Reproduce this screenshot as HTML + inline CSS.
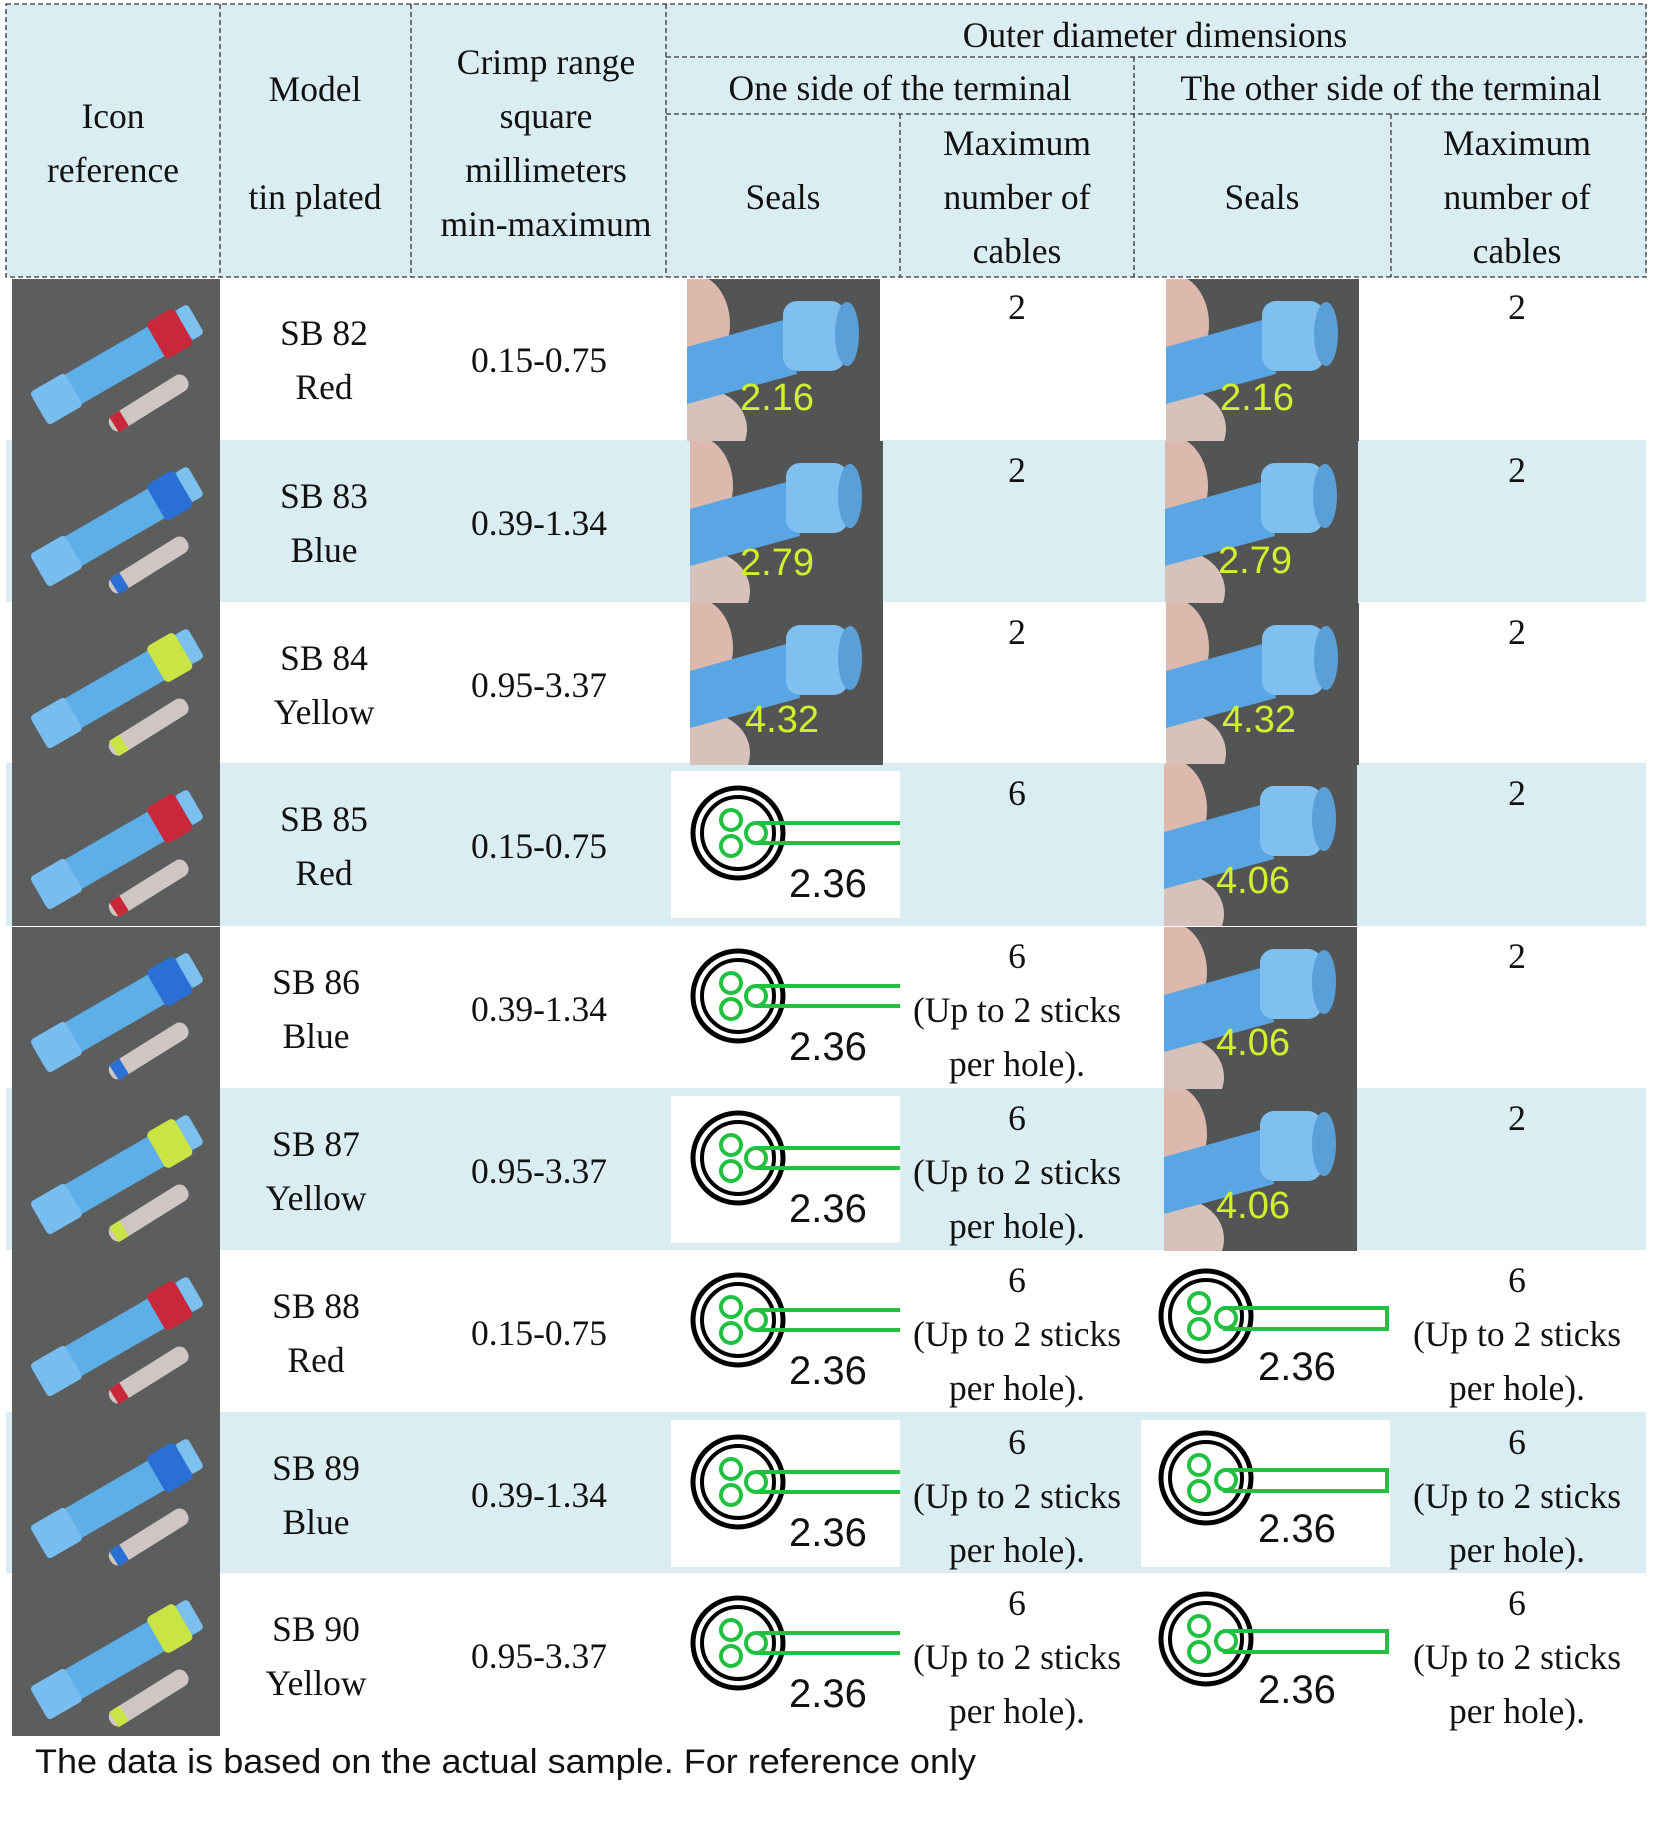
<!DOCTYPE html>
<html><head><meta charset="utf-8"><style>
html,body{margin:0;padding:0;background:#fff;}
svg{display:block;}
.s{font-family:"Liberation Serif",serif;font-size:35.5px;fill:#111;text-anchor:middle;}
.n{font-family:"Liberation Sans Narrow","Liberation Sans",sans-serif;font-size:40px;fill:#111;}
.y{font-family:"Liberation Sans Narrow","Liberation Sans",sans-serif;font-size:38px;fill:#d2ef2e;}
</style></head><body>
<svg width="1653" height="1833" viewBox="0 0 1653 1833" xmlns="http://www.w3.org/2000/svg">
<defs>
<symbol id="icon" viewBox="0 0 208 162" width="208" height="162">
<rect width="208" height="162" fill="#5c5e5e"/>
<g transform="rotate(-30 105 85)">
<rect x="15" y="68" width="180" height="34" rx="6" fill="#5eaee8"/>
<rect x="15" y="66" width="40" height="38" rx="4" fill="#78bdf0"/>
<rect x="150" y="64" width="32" height="42" rx="5" fill="currentColor"/>
<rect x="182" y="68" width="14" height="34" rx="4" fill="#7cc0f0"/>
</g>
<g transform="rotate(-32 135 125)">
<rect x="92" y="116" width="90" height="18" rx="8" fill="#cfc6c4"/>
<rect x="96" y="116" width="12" height="18" fill="currentColor"/>
</g>
</symbol>
<symbol id="seal" viewBox="0 0 193 162" width="193" height="162">
<rect width="193" height="162" fill="#535555"/>
<ellipse cx="5" cy="45" rx="38" ry="50" fill="#dcb8ad"/>
<ellipse cx="15" cy="150" rx="45" ry="40" fill="#d7c2bb"/>
<polygon points="0,68 100,40 110,95 0,125" fill="#5aa6e4"/>
<rect x="96" y="22" width="62" height="70" rx="14" fill="#7fc0f0"/>
<ellipse cx="160" cy="55" rx="12" ry="32" fill="#5b9fd8"/>
</symbol>
<symbol id="dia" viewBox="0 0 229 147" width="229" height="147">
<circle cx="67" cy="62" r="45" fill="none" stroke="#000" stroke-width="5"/>
<circle cx="67" cy="62" r="36" fill="none" stroke="#000" stroke-width="4"/>
<line x1="84" y1="52" x2="229" y2="52" stroke="#22c040" stroke-width="4"/>
<line x1="84" y1="72" x2="229" y2="72" stroke="#22c040" stroke-width="4"/>
<circle cx="60" cy="49" r="10" fill="none" stroke="#22c040" stroke-width="4"/>
<circle cx="60" cy="75" r="10" fill="none" stroke="#22c040" stroke-width="4"/>
<circle cx="85" cy="62" r="10" fill="none" stroke="#22c040" stroke-width="4"/>
</symbol>
<symbol id="dib" viewBox="0 0 249 147" width="249" height="147">
<circle cx="65" cy="58" r="45" fill="none" stroke="#000" stroke-width="5"/>
<circle cx="65" cy="58" r="36" fill="none" stroke="#000" stroke-width="4"/>
<rect x="84" y="50" width="162" height="21" fill="none" stroke="#22c040" stroke-width="4"/>
<circle cx="58" cy="45" r="10" fill="#fff" stroke="#22c040" stroke-width="4"/>
<circle cx="58" cy="71" r="10" fill="#fff" stroke="#22c040" stroke-width="4"/>
<circle cx="85" cy="60" r="10" fill="#fff" stroke="#22c040" stroke-width="4"/>
</symbol>
</defs>

<rect x="6" y="4" width="1640" height="273" fill="#daedf3"/>
<g fill="none" stroke="#333" stroke-width="1.3" stroke-dasharray="5,3">
<rect x="6" y="4" width="1640" height="273"/>
<line x1="220" y1="4" x2="220" y2="277"/><line x1="411" y1="4" x2="411" y2="277"/><line x1="666" y1="4" x2="666" y2="277"/>
<line x1="666" y1="57" x2="1646" y2="57"/><line x1="666" y1="114" x2="1646" y2="114"/>
<line x1="1134" y1="57" x2="1134" y2="277"/><line x1="900" y1="114" x2="900" y2="277"/><line x1="1391" y1="114" x2="1391" y2="277"/>
</g>
<text class="s" x="113" y="128">Icon</text><text class="s" x="113" y="182">reference</text>
<text class="s" x="315" y="101">Model</text><text class="s" x="315" y="209">tin plated</text>
<text class="s" x="546" y="74">Crimp range</text><text class="s" x="546" y="128">square</text><text class="s" x="546" y="182">millimeters</text><text class="s" x="546" y="236">min-maximum</text>
<text class="s" x="1155" y="47">Outer diameter dimensions</text>
<text class="s" x="900" y="100">One side of the terminal</text>
<text class="s" x="1391" y="100">The other side of the terminal</text>
<text class="s" x="783" y="209">Seals</text><text class="s" x="1262" y="209">Seals</text>
<text class="s" x="1017" y="155">Maximum</text><text class="s" x="1017" y="209">number of</text><text class="s" x="1017" y="263">cables</text>
<text class="s" x="1517" y="155">Maximum</text><text class="s" x="1517" y="209">number of</text><text class="s" x="1517" y="263">cables</text>

<g fill="#daedf3">
<rect x="6" y="440" width="1640" height="162"/>
<rect x="6" y="763" width="1640" height="163"/>
<rect x="6" y="1088" width="1640" height="162"/>
<rect x="6" y="1412" width="1640" height="161"/>
</g>

<use href="#icon" x="12" y="279" color="#c8283a"/>
<use href="#icon" x="12" y="441" color="#2a6fd4"/>
<use href="#icon" x="12" y="603" color="#c9e444"/>
<use href="#icon" x="12" y="764" color="#c8283a"/>
<use href="#icon" x="12" y="927" color="#2a6fd4"/>
<use href="#icon" x="12" y="1089" color="#c9e444"/>
<use href="#icon" x="12" y="1251" color="#c8283a"/>
<use href="#icon" x="12" y="1413" color="#2a6fd4"/>
<use href="#icon" x="12" y="1574" color="#c9e444"/>

<text class="s" x="324" y="345">SB 82</text><text class="s" x="324" y="399">Red</text><text class="s" x="539" y="372">0.15-0.75</text>
<text class="s" x="324" y="508">SB 83</text><text class="s" x="324" y="562">Blue</text><text class="s" x="539" y="535">0.39-1.34</text>
<text class="s" x="324" y="670">SB 84</text><text class="s" x="324" y="724">Yellow</text><text class="s" x="539" y="697">0.95-3.37</text>
<text class="s" x="324" y="831">SB 85</text><text class="s" x="324" y="885">Red</text><text class="s" x="539" y="858">0.15-0.75</text>
<text class="s" x="316" y="994">SB 86</text><text class="s" x="316" y="1048">Blue</text><text class="s" x="539" y="1021">0.39-1.34</text>
<text class="s" x="316" y="1156">SB 87</text><text class="s" x="316" y="1210">Yellow</text><text class="s" x="539" y="1183">0.95-3.37</text>
<text class="s" x="316" y="1318">SB 88</text><text class="s" x="316" y="1372">Red</text><text class="s" x="539" y="1345">0.15-0.75</text>
<text class="s" x="316" y="1480">SB 89</text><text class="s" x="316" y="1534">Blue</text><text class="s" x="539" y="1507">0.39-1.34</text>
<text class="s" x="316" y="1641">SB 90</text><text class="s" x="316" y="1695">Yellow</text><text class="s" x="539" y="1668">0.95-3.37</text>

<use href="#seal" x="687" y="279"/><text class="y" x="740" y="410">2.16</text>
<use href="#seal" x="690" y="441"/><text class="y" x="740" y="575">2.79</text>
<use href="#seal" x="690" y="603"/><text class="y" x="745" y="732">4.32</text>
<g fill="#fff"><rect x="671" y="771" width="229" height="147"/><rect x="671" y="1096" width="229" height="147"/><rect x="671" y="1420" width="229" height="147"/></g>
<use href="#dia" x="671" y="771"/><text class="n" x="789" y="897">2.36</text>
<use href="#dia" x="671" y="934"/><text class="n" x="789" y="1060">2.36</text>
<use href="#dia" x="671" y="1096"/><text class="n" x="789" y="1222">2.36</text>
<use href="#dia" x="671" y="1258"/><text class="n" x="789" y="1384">2.36</text>
<use href="#dia" x="671" y="1420"/><text class="n" x="789" y="1546">2.36</text>
<use href="#dia" x="671" y="1581"/><text class="n" x="789" y="1707">2.36</text>

<use href="#seal" x="1166" y="279"/><text class="y" x="1220" y="410">2.16</text>
<use href="#seal" x="1165" y="441"/><text class="y" x="1218" y="573">2.79</text>
<use href="#seal" x="1166" y="603"/><text class="y" x="1222" y="732">4.32</text>
<use href="#seal" x="1164" y="764"/><text class="y" x="1216" y="893">4.06</text>
<use href="#seal" x="1164" y="927"/><text class="y" x="1216" y="1055">4.06</text>
<use href="#seal" x="1164" y="1089"/><text class="y" x="1216" y="1218">4.06</text>
<rect x="1141" y="1420" width="249" height="147" fill="#fff"/>
<use href="#dib" x="1141" y="1258"/><text class="n" x="1258" y="1380">2.36</text>
<use href="#dib" x="1141" y="1420"/><text class="n" x="1258" y="1542">2.36</text>
<use href="#dib" x="1141" y="1581"/><text class="n" x="1258" y="1703">2.36</text>

<text class="s" x="1017" y="319">2</text>
<text class="s" x="1017" y="482">2</text>
<text class="s" x="1017" y="644">2</text>
<text class="s" x="1017" y="805">6</text>
<text class="s" x="1017" y="968">6</text><text class="s" x="1017" y="1022">(Up to 2 sticks</text><text class="s" x="1017" y="1076">per hole).</text>
<text class="s" x="1017" y="1130">6</text><text class="s" x="1017" y="1184">(Up to 2 sticks</text><text class="s" x="1017" y="1238">per hole).</text>
<text class="s" x="1017" y="1292">6</text><text class="s" x="1017" y="1346">(Up to 2 sticks</text><text class="s" x="1017" y="1400">per hole).</text>
<text class="s" x="1017" y="1454">6</text><text class="s" x="1017" y="1508">(Up to 2 sticks</text><text class="s" x="1017" y="1562">per hole).</text>
<text class="s" x="1017" y="1615">6</text><text class="s" x="1017" y="1669">(Up to 2 sticks</text><text class="s" x="1017" y="1723">per hole).</text>

<text class="s" x="1517" y="319">2</text>
<text class="s" x="1517" y="482">2</text>
<text class="s" x="1517" y="644">2</text>
<text class="s" x="1517" y="805">2</text>
<text class="s" x="1517" y="968">2</text>
<text class="s" x="1517" y="1130">2</text>
<text class="s" x="1517" y="1292">6</text><text class="s" x="1517" y="1346">(Up to 2 sticks</text><text class="s" x="1517" y="1400">per hole).</text>
<text class="s" x="1517" y="1454">6</text><text class="s" x="1517" y="1508">(Up to 2 sticks</text><text class="s" x="1517" y="1562">per hole).</text>
<text class="s" x="1517" y="1615">6</text><text class="s" x="1517" y="1669">(Up to 2 sticks</text><text class="s" x="1517" y="1723">per hole).</text>

<text x="35" y="1773" textLength="941" lengthAdjust="spacingAndGlyphs" style="font-family:'Liberation Sans',sans-serif;font-size:34px;fill:#111;">The data is based on the actual sample. For reference only</text>
</svg>
</body></html>
